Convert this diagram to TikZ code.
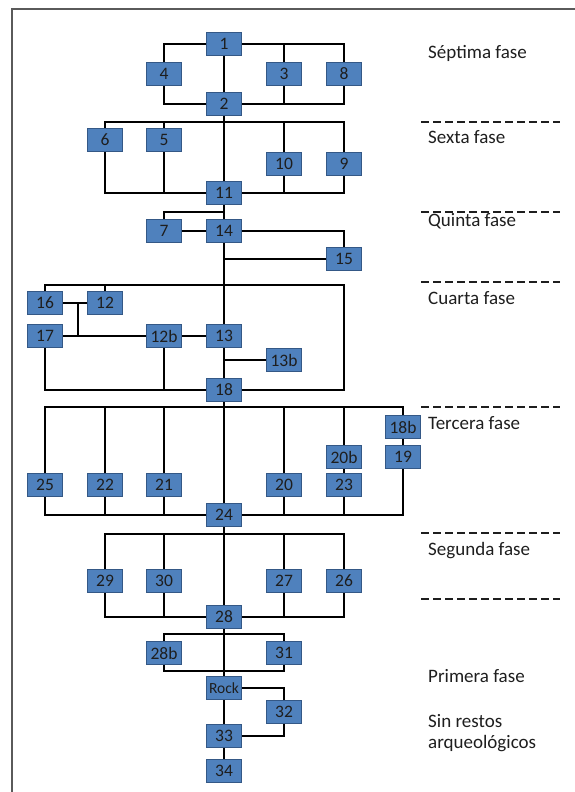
\documentclass[tikz,border=0pt]{standalone}
\usepackage{fontspec}
\setmainfont{Carlito}
\usetikzlibrary{backgrounds}
\definecolor{boxfill}{RGB}{79,129,189}
\definecolor{boxline}{RGB}{52,88,134}
\definecolor{textgray}{RGB}{30,30,30}
\definecolor{framecol}{RGB}{90,90,90}
\begin{document}
\begin{tikzpicture}[x=1pt,y=-1pt,
  box/.style={draw=boxline,fill=boxfill,line width=0.8pt,minimum width=35.6pt,minimum height=23.6pt,inner sep=0pt,text=textgray,font=\fontsize{17.5}{20}\selectfont},
  conn/.style={line width=2.4pt,black},
  phase/.style={anchor=base west,inner sep=0pt,font=\fontsize{19}{22}\selectfont,text=textgray},
  sepline/.style={line width=2pt,dash pattern=on 8pt off 4pt,textgray}]
\useasboundingbox (0,0) rectangle (575,792);
\draw[framecol,line width=1.5pt] (11.8,792) -- (11.8,9) -- (575,9);

% nodes
\node[box] (n1) at (224,44) {1};
\node[box] (n4) at (164,74) {4};
\node[box] (n3) at (284,74) {3};
\node[box] (n8) at (344,74) {8};
\node[box] (n2) at (224,104) {2};
\node[box] (n6) at (105,140) {6};
\node[box] (n5) at (164,140) {5};
\node[box] (n10) at (284,164) {10};
\node[box] (n9) at (344,164) {9};
\node[box] (n11) at (224,193) {11};
\node[box] (n7) at (164,231) {7};
\node[box] (n14) at (224,231) {14};
\node[box] (n15) at (344,259) {15};
\node[box] (n16) at (45,303) {16};
\node[box] (n12) at (105,303) {12};
\node[box] (n17) at (45,336) {17};
\node[box] (n12b) at (164,336) {12b};
\node[box] (n13) at (224,336) {13};
\node[box] (n13b) at (284,360) {13b};
\node[box] (n18) at (224,390) {18};
\node[box] (n18b) at (403,427) {18b};
\node[box] (n20b) at (344,457) {20b};
\node[box] (n19) at (403,457) {19};
\node[box] (n25) at (45,485) {25};
\node[box] (n22) at (105,485) {22};
\node[box] (n21) at (164,485) {21};
\node[box] (n20) at (284,485) {20};
\node[box] (n23) at (344,485) {23};
\node[box] (n24) at (224,515) {24};
\node[box] (n29) at (105,581) {29};
\node[box] (n30) at (164,581) {30};
\node[box] (n27) at (284,581) {27};
\node[box] (n26) at (344,581) {26};
\node[box] (n28) at (224,617) {28};
\node[box] (n28b) at (164,653) {28b};
\node[box] (n31) at (284,653) {31};
\node[box,font=\fontsize{15.5}{18}\selectfont] (rock) at (224,688) {Rock};
\node[box] (n32) at (284,712) {32};
\node[box] (n33) at (224,736) {33};
\node[box] (n34) at (224,771) {34};

% bus points
\coordinate (bus6) at (224,122);
\coordinate (bus5) at (224,212);
\coordinate (bus4) at (224,285);
\coordinate (cR) at (344,285);
\coordinate (mid16) at (78,303);
\coordinate (bus3) at (224,407);
\coordinate (bus2) at (224,534);
\coordinate (bus1) at (224,634);
\coordinate (bus1b) at (224,671);

\begin{scope}[on background layer]
% phase 7
\draw[conn] (n1.west) -| (n4.north);
\draw[conn] (n1.east) -| (n8.north);
\draw[conn] (n3.north) -- (n3.north |- n1.east);
\draw[conn] (n1.south) -- (n2.north);
\draw[conn] (n4.south) |- (n2.west);
\draw[conn] (n8.south) |- (n2.east);
\draw[conn] (n3.south) -- (n3.south |- n2.east);
% phase 6
\draw[conn] (n2.south) -- (n11.north);
\draw[conn] (n6.north) |- (bus6) -| (n9.north);
\draw[conn] (n5.north) -- (n5.north |- bus6);
\draw[conn] (n10.north) -- (n10.north |- bus6);
\draw[conn] (n6.south) |- (n11.west);
\draw[conn] (n9.south) |- (n11.east);
\draw[conn] (n5.south) -- (n5.south |- n11.west);
\draw[conn] (n10.south) -- (n10.south |- n11.east);
% phase 5
\draw[conn] (n11.south) -- (n14.north);
\draw[conn] (n7.north) |- (bus5);
\draw[conn] (n7.east) -- (n14.west);
\draw[conn] (n14.east) -| (n15.north);
\draw[conn] (n14.south) -- (n13.north);
\draw[conn] (n15.west) -- (n15.west -| n14.south);
% phase 4
\draw[conn] (n16.north) |- (bus4) -- (cR) |- (n18.east);
\draw[conn] (n12.north) -- (n12.north |- bus4);
\draw[conn] (n16.east) -- (n12.west);
\draw[conn] (mid16) -- (mid16 |- n17.east);
\draw[conn] (n17.east) -- (n12b.west);
\draw[conn] (n12b.east) -- (n13.west);
\draw[conn] (n13.south) -- (n18.north);
\draw[conn] (n13b.west) -- (n13b.west -| n13.south);
\draw[conn] (n17.south) |- (n18.west);
\draw[conn] (n12b.south) -- (n12b.south |- n18.west);
% phase 3
\draw[conn] (n18.south) -- (n24.north);
\draw[conn] (n25.north) |- (bus3) -| (n18b.north);
\foreach \n in {n22,n21,n20,n20b} \draw[conn] (\n.north) -- (\n.north |- bus3);
\draw[conn] (n18b.south) -- (n19.north);
\draw[conn] (n20b.south) -- (n23.north);
\draw[conn] (n25.south) |- (n24.west);
\draw[conn] (n19.south) |- (n24.east);
\foreach \n in {n22,n21,n20,n23} \draw[conn] (\n.south) -- (\n.south |- n24.west);
% phase 2
\draw[conn] (n24.south) -- (n28.north);
\draw[conn] (n29.north) |- (bus2) -| (n26.north);
\foreach \n in {n30,n27} \draw[conn] (\n.north) -- (\n.north |- bus2);
\draw[conn] (n29.south) |- (n28.west);
\draw[conn] (n26.south) |- (n28.east);
\foreach \n in {n30,n27} \draw[conn] (\n.south) -- (\n.south |- n28.west);
% phase 1
\draw[conn] (n28.south) -- (rock.north);
\draw[conn] (n28b.north) |- (bus1) -| (n31.north);
\draw[conn] (n28b.south) |- (bus1b) -| (n31.south);
\draw[conn] (rock.east) -| (n32.north);
\draw[conn] (rock.south) -- (n33.north);
\draw[conn] (n33.east) -| (n32.south);
\draw[conn] (n33.south) -- (n34.north);
\end{scope}

% phase separators
\foreach \yy in {122,212,282,407,533,599} \draw[sepline] (421,\yy) -- (560,\yy);

% phase labels
\node[phase] (l7) at (428,59) {Séptima fase};
\node[phase] (l6) at (428,143) {Sexta fase};
\node[phase] (l5) at (428,226) {Quinta fase};
\node[phase] (l4) at (428,304) {Cuarta fase};
\node[phase] (l3) at (428,429.5) {Tercera fase};
\node[phase] (l2) at (428,555) {Segunda fase};
\node[phase] (l1) at (428,682) {Primera fase};
\node[phase] (l0a) at (428,727) {Sin restos};
\node[phase] (l0b) at (428,748) {arqueológicos};
\end{tikzpicture}
\end{document}
